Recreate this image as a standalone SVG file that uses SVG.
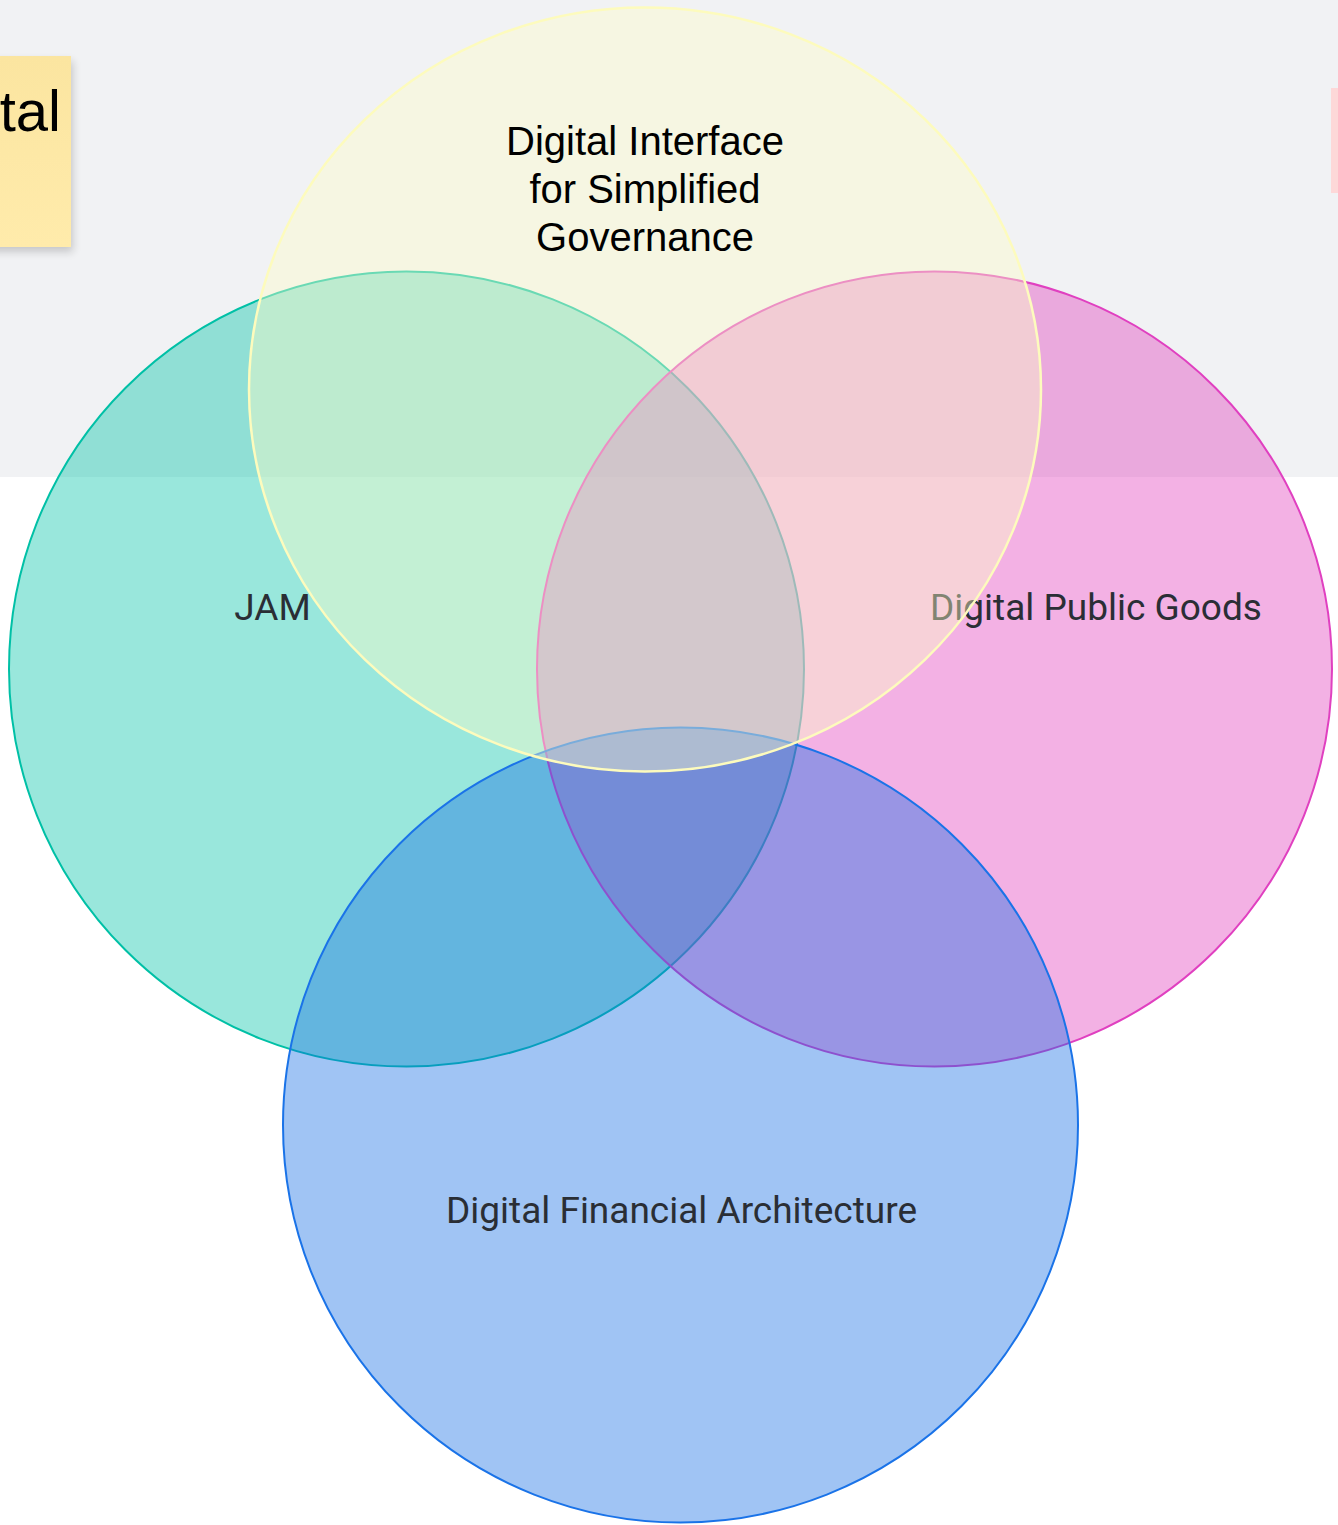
<svg xmlns="http://www.w3.org/2000/svg" width="1338" height="1525" viewBox="0 0 1338 1525">
  <defs>
    <filter id="shadow" x="-20%" y="-20%" width="140%" height="140%">
      <feGaussianBlur in="SourceAlpha" stdDeviation="4"/>
      <feOffset dx="2" dy="5" result="b"/>
      <feComponentTransfer><feFuncA type="linear" slope="0.18"/></feComponentTransfer>
      <feMerge><feMergeNode/><feMergeNode in="SourceGraphic"/></feMerge>
    </filter>
    <linearGradient id="stickyGrad" x1="0" y1="0" x2="0" y2="1">
      <stop offset="0" stop-color="#fbe5a0"/>
      <stop offset="1" stop-color="#ffebab"/>
    </linearGradient>
  </defs>
  <style>
    .lbl { font-family: Roboto, "Liberation Sans", sans-serif; font-size: 37px; fill: #2a2e35; text-anchor: middle; }
    .ylbl { font-family: "Liberation Sans", Arial, sans-serif; font-size: 40px; fill: #000; text-anchor: middle; }
    .sticky-text { font-family: "Liberation Sans", Arial, sans-serif; font-size: 58px; fill: #000; }
  </style>
  <rect x="0" y="0" width="1338" height="1525" fill="#ffffff"/>
  <rect id="frame" x="0" y="0" width="1338" height="477" fill="#f1f2f4"/>
  <g id="sticky-left" filter="url(#shadow)">
    <rect x="-60" y="56" width="131" height="191" fill="url(#stickyGrad)"/>
    <text class="sticky-text" x="61" y="131" text-anchor="end">tal</text>
  </g>
  <g id="sticky-right">
    <rect x="1331" y="88" width="10" height="105" fill="#fdd8d8"/>
  </g>
  <g id="jam">
    <circle cx="406.5" cy="669" r="397.5" fill="#00c2a8" fill-opacity="0.4" stroke="#00c0a6" stroke-width="2"/>
    <text class="lbl" x="272.5" y="620">JAM</text>
  </g>
  <g id="dpg">
    <circle cx="934.5" cy="669" r="397.5" fill="#e13cbb" fill-opacity="0.4" stroke="#e040c0" stroke-width="2"/>
    <text class="lbl" x="1096" y="620">Digital Public Goods</text>
  </g>
  <g id="dfa">
    <circle cx="680.5" cy="1125" r="397.5" fill="#116be3" fill-opacity="0.4" stroke="#1a73e8" stroke-width="2"/>
    <text class="lbl" x="681.5" y="1223">Digital Financial Architecture</text>
  </g>
  <g id="disg">
    <ellipse cx="645" cy="389.5" rx="396" ry="382" fill="#fdfcc8" fill-opacity="0.42" stroke="#fdfbbd" stroke-width="2.5"/>
    <text class="ylbl" x="645" y="155">Digital Interface</text>
    <text class="ylbl" x="645" y="203">for Simplified</text>
    <text class="ylbl" x="645" y="251">Governance</text>
  </g>
  <g id="connectors"/>
</svg>
